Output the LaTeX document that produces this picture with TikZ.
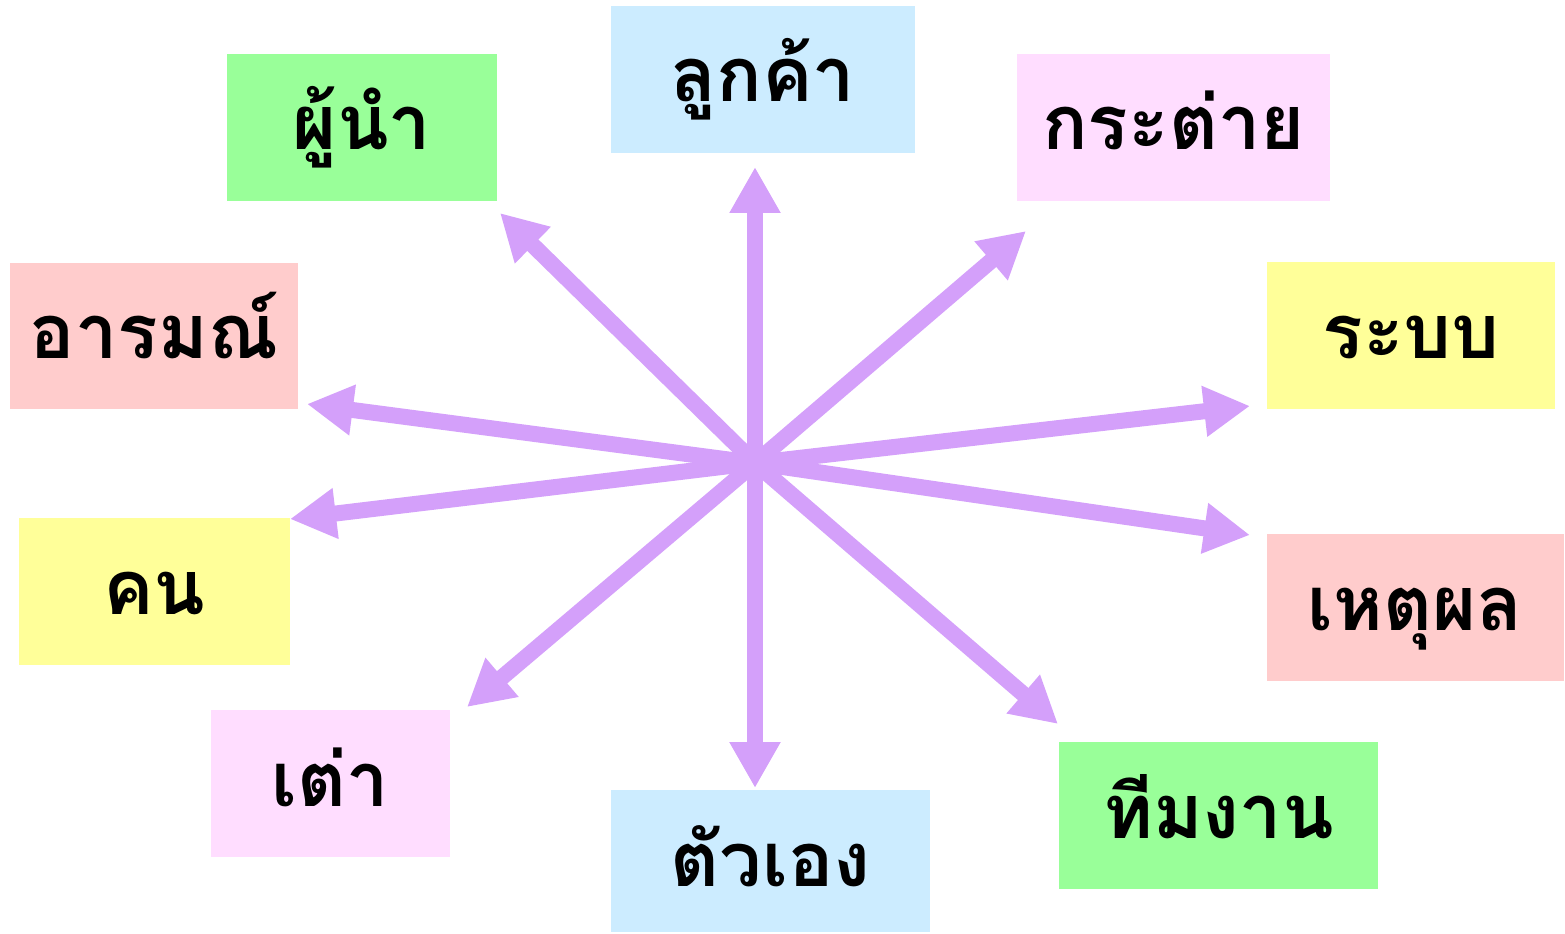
\documentclass[tikz,border=0pt]{standalone}
\usepackage{fontspec}
\newfontfamily\thaifont[Script=Thai]{Loma}
\usetikzlibrary{arrows.meta}
\definecolor{skyfill}{RGB}{204,236,255}
\definecolor{leaffill}{RGB}{153,255,153}
\definecolor{rosefill}{RGB}{255,221,255}
\definecolor{salmonfill}{RGB}{255,204,204}
\definecolor{lemonfill}{RGB}{255,255,153}
\definecolor{spokecol}{RGB}{212,160,250}
\tikzset{
  word/.style={rectangle, inner sep=0pt, minimum height=2.94cm,
    text height=1.92cm, text depth=1.02cm,
    font=\thaifont\bfseries\fontsize{43pt}{50pt}\selectfont},
  spoke/.style={draw=spokecol, line width=0.32cm,
    -{Triangle[length=0.92cm, width=0.96cm]}}
}
\begin{document}
\begin{tikzpicture}[x=0.02cm, y=-0.02cm]
  \useasboundingbox (0,0) rectangle (1565,933);
  % Nodes
  \node (customer) [word, fill=skyfill, minimum width=6.08cm] at (763, 79.5) {ลูกค้า};
  \node (leader) [word, fill=leaffill, minimum width=5.4cm] at (362, 127.5) {ผู้นำ};
  \node (rabbit) [word, fill=rosefill, minimum width=6.26cm] at (1173.5, 127.5) {กระต่าย};
  \node (emotion) [word, fill=salmonfill, minimum width=5.76cm] at (154, 336) {อารมณ์};
  \node (system) [word, fill=lemonfill, minimum width=5.76cm] at (1411, 335.5) {ระบบ};
  \node (people) [word, fill=lemonfill, minimum width=5.42cm] at (154.5, 591.5) {คน};
  \node (reason) [word, fill=salmonfill, minimum width=5.94cm] at (1415.5, 607.5) {เหตุผล};
  \node (turtle) [word, fill=rosefill, minimum width=4.78cm] at (330.5, 783.5) {เต่า};
  \node (self) [word, fill=skyfill, minimum width=6.38cm, minimum height=2.84cm,
    text depth=0.92cm] at (770.5, 861) {ตัวเอง};
  \node (team) [word, fill=leaffill, minimum width=6.38cm] at (1218.5, 815.5) {ทีมงาน};
  % Tips
  \coordinate (hub) at (755, 463);
  \coordinate (toCustomer) at (755, 167);
  \coordinate (toLeader) at (500, 213);
  \coordinate (toRabbit) at (1026, 231);
  \coordinate (toEmotion) at (307, 404);
  \coordinate (toSystem) at (1250, 406);
  \coordinate (toPeople) at (290, 519);
  \coordinate (toReason) at (1250, 535);
  \coordinate (toTurtle) at (467, 707);
  \coordinate (toSelf) at (755, 788);
  \coordinate (toTeam) at (1058, 724);
  % Arrow
  \foreach \t in {toCustomer, toLeader, toRabbit, toEmotion, toSystem,
                  toPeople, toReason, toTurtle, toSelf, toTeam}
    \draw[spoke] (hub) -- (\t);
\end{tikzpicture}
\end{document}
